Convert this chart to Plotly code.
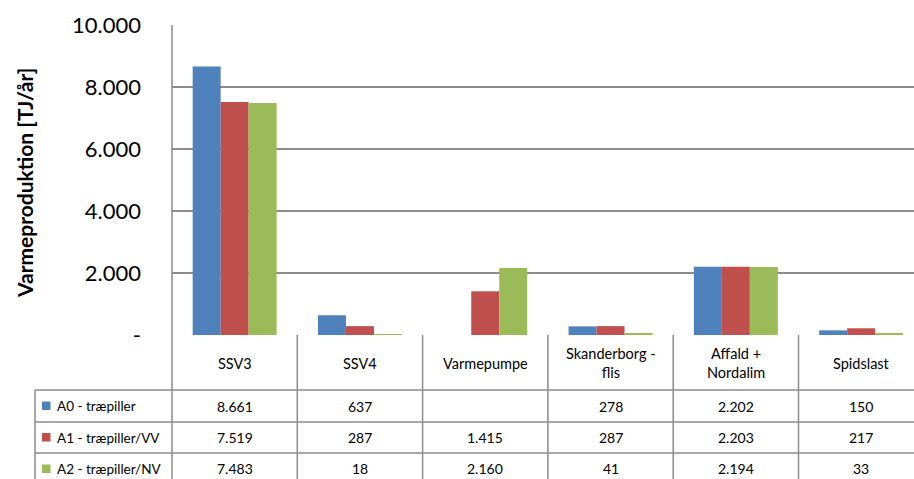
import plotly.graph_objects as go

# ---------------- data ----------------
categories = ["SSV3", "SSV4", "Varmepumpe", "Skanderborg - flis", "Affald + Nordalim", "Spidslast"]
header_labels = ["SSV3", "SSV4", "Varmepumpe", "Skanderborg -<br>flis", "Affald +<br>Nordalim", "Spidslast"]
series_names = ["A0 - træpiller", "A1 - træpiller/VV", "A2 - træpiller/NV"]
a0_values = [8661, 637, None, 278, 2202, 150]
a1_values = [7519, 287, 1415, 287, 2203, 217]
a2_values = [7483, 18, 2160, 41, 2194, 33]
y_tickvals = [0, 2000, 4000, 6000, 8000, 10000]
y_ticktext = ["-", "2.000", "4.000", "6.000", "8.000", "10.000"]
y_title = "Varmeproduktion [TJ/år]"

series_values = [a0_values, a1_values, a2_values]
colors = ["#4F81BD", "#C0504D", "#9BBB59"]

# ---------------- layout constants ----------------
W, H = 914, 479
ML, MR, MT, MB = 172, 0, 25, 144
PLOT_H = H - MT - MB
PLOT_W = W - ML - MR
ZERO_PX = MT + PLOT_H
GRID = "#8c8c8c"
FONT = "Lato"


def py(pix):
    """pixel row -> paper y"""
    return (ZERO_PX - pix) / PLOT_H


def px(pix):
    """pixel column -> paper x"""
    return (pix - ML) / PLOT_W


def fmt(v):
    if v is None:
        return ""
    return f"{v:,}".replace(",", ".")


xs = list(range(len(categories)))

fig = go.Figure()
for name, vals, col in zip(series_names, series_values, colors):
    fig.add_trace(go.Bar(x=xs, y=vals, name=name, marker=dict(color=col, line=dict(width=0)),
                         hoverinfo="y+name"))

shapes = []
annotations = []

# table geometry (pixels)
row_lines = [390, 422, 453]
row_centers = [406, 437.5, 469]
table_left = 35
table_bottom = H + 10

# left border of plot + table
shapes.append(dict(type="line", xref="paper", yref="paper", x0=0, x1=0,
                   y0=1, y1=py(table_bottom), line=dict(color=GRID, width=1.5)))
# horizontal table lines
for r in row_lines:
    shapes.append(dict(type="line", xref="paper", yref="paper", x0=px(table_left), x1=1,
                       y0=py(r), y1=py(r), line=dict(color=GRID, width=1.5)))
# legend column left border
shapes.append(dict(type="line", xref="paper", yref="paper", x0=px(table_left), x1=px(table_left),
                   y0=py(row_lines[0]), y1=py(table_bottom), line=dict(color=GRID, width=1.5)))
# vertical category boundaries
for i in range(len(categories)):
    shapes.append(dict(type="line", xref="x", yref="paper", x0=i + 0.5, x1=i + 0.5,
                       y0=0, y1=py(table_bottom), line=dict(color=GRID, width=1.5)))

# header labels
for i, lab in enumerate(header_labels):
    annotations.append(dict(x=i, y=py(363), xref="x", yref="paper", text=lab, showarrow=False,
                            xanchor="center", yanchor="middle",
                            font=dict(family=FONT, size=14.5, color="#000")))

# rows
for name, vals, col, yc in zip(series_names, series_values, colors, row_centers):
    shapes.append(dict(type="rect", xref="paper", yref="paper", x0=px(42), x1=px(50.5),
                       y0=py(yc - 4.5), y1=py(yc + 4), fillcolor=col, line=dict(width=0)))
    annotations.append(dict(x=px(55), y=py(yc), xref="paper", yref="paper", text=name,
                            showarrow=False, xanchor="left", yanchor="middle",
                            font=dict(family=FONT, size=13.5, color="#000")))
    for i, v in enumerate(vals):
        annotations.append(dict(x=i, y=py(yc), xref="x", yref="paper", text=fmt(v),
                                showarrow=False, xanchor="center", yanchor="middle",
                                font=dict(family=FONT, size=14, color="#000")))

# y title
annotations.append(dict(x=px(24), y=py(183), xref="paper", yref="paper", text="<b>" + y_title + "</b>",
                        textangle=-90, showarrow=False, xanchor="center", yanchor="middle",
                        font=dict(family=FONT, size=21, color="#000")))

cat_w = 125.3
fig.update_layout(
    width=W, height=H,
    margin=dict(l=ML, r=MR, t=MT, b=MB, pad=0),
    paper_bgcolor="white", plot_bgcolor="white",
    barmode="group", bargap=0.33, bargroupgap=0,
    showlegend=False,
    shapes=shapes, annotations=annotations,
    xaxis=dict(range=[-0.5, -0.5 + PLOT_W / cat_w], showticklabels=False, showgrid=False,
               zeroline=False, showline=False, fixedrange=True),
    yaxis=dict(range=[0, 10000], tickvals=y_tickvals, ticktext=y_ticktext,
               showgrid=True, gridcolor=GRID, gridwidth=1.5, zeroline=False, showline=False,
               ticks="", ticklabelstandoff=30, fixedrange=True,
               tickfont=dict(family=FONT, size=22, color="#000")),
    font=dict(family=FONT),
)

fig.write_html("out.html", config={"displayModeBar": False},
               post_script="document.body.style.margin='0px';document.body.style.overflow='hidden';")
